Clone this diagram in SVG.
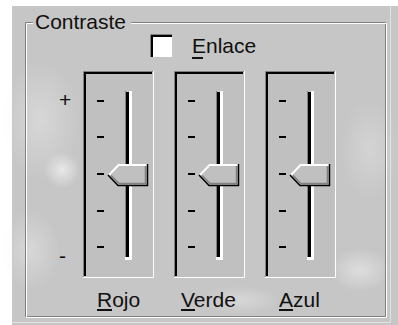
<svg xmlns="http://www.w3.org/2000/svg" xmlns:xlink="http://www.w3.org/1999/xlink" width="398" height="325" viewBox="0 0 398 325">
<style>
.t{font-family:"Liberation Sans",Arial,sans-serif;font-size:21px;fill:#101010}
.dk{fill:none;stroke:#808080;stroke-width:1}
.wh{fill:none;stroke:#ffffff;stroke-width:1}
</style>
<defs>
<radialGradient id="cl" cx="50%" cy="50%" r="50%">
<stop offset="0" stop-color="#ececec" stop-opacity="0.9"/>
<stop offset="1" stop-color="#ececec" stop-opacity="0"/>
</radialGradient>
<g id="slider">
<rect x="0" y="71" width="70" height="206" fill="#c0c0c0"/>
<path d="M0.5,277 V71.5 H70" class="dk"/>
<path d="M2,276 V73 H69" fill="none" stroke="#000" stroke-width="2"/>
<path d="M70.5,71 V277.5 H0" class="wh"/>
<g fill="#000">
<rect x="14" y="100" width="7" height="2"/>
<rect x="14" y="136" width="7" height="2"/>
<rect x="14" y="173" width="7" height="2"/>
<rect x="14" y="210" width="7" height="2"/>
<rect x="14" y="246" width="7" height="2"/>
</g>
<rect x="42" y="91" width="1" height="167" fill="#808080"/>
<rect x="43" y="92" width="3" height="165" fill="#000"/>
<path d="M46,91 H49 V260 H42 V257 H46 Z" fill="#fff"/>
<polygon points="25,175 35,164 65,164 65,186 35,186" fill="#c0c0c0"/>
<polyline points="26,175 35.5,165 64,165" fill="none" stroke="#fff" stroke-width="2"/>
<polyline points="62.5,166 62.5,183.5 36,183.5 28,175.5" fill="none" stroke="#808080" stroke-width="1.5"/>
<polyline points="64.5,164 64.5,185.5 35,185.5 25,175" fill="none" stroke="#000" stroke-width="1.5"/>
</g>
</defs>
<rect x="0" y="0" width="398" height="325" fill="#ffffff"/>
<rect x="12" y="6" width="386" height="319" fill="#c6c6c6"/>
<g id="background">
<ellipse cx="62" cy="170" rx="18" ry="18" fill="url(#cl)"/>
<ellipse cx="40" cy="120" rx="40" ry="60" fill="url(#cl)" opacity="0.5"/>
<ellipse cx="30" cy="250" rx="30" ry="40" fill="url(#cl)" opacity="0.5"/>
<ellipse cx="360" cy="270" rx="30" ry="22" fill="url(#cl)" opacity="0.7"/>
<ellipse cx="240" cy="300" rx="40" ry="14" fill="url(#cl)" opacity="0.5"/>
<ellipse cx="370" cy="150" rx="30" ry="50" fill="url(#cl)" opacity="0.4"/>
<path d="M390.5,6 V322.5 H12" fill="none" stroke="#e2e2e2" stroke-width="1"/>
</g>
<g id="group-contraste">
<path d="M33,22.5 H25.5 V316.5 H385.5 V22.5 H131" class="dk"/>
<path d="M33,23.5 H26.5 V317.5 H386.5 V23.5 H131" class="wh"/>
<text x="35" y="29" class="t">Contraste</text>
<text x="59" y="107" class="t">+</text>
<text x="59" y="263" class="t">-</text>
</g>
<g id="checkbox-enlace">
<rect x="150" y="34" width="22" height="23" fill="#fff"/>
<path d="M150.5,57 V34.5 H172" class="dk"/>
<path d="M152,57 V36 H172" fill="none" stroke="#000" stroke-width="2"/>
<text x="192" y="53" class="t">Enlace</text>
<rect x="192" y="57" width="11" height="2" fill="#101010"/>
</g>
<g id="slider-rojo">
<use xlink:href="#slider" transform="translate(83,0)"/>
<text x="97" y="307" class="t">Rojo</text>
<rect x="97" y="309" width="15" height="2" fill="#101010"/>
</g>
<g id="slider-verde">
<use xlink:href="#slider" transform="translate(174,0)"/>
<text x="181" y="307" class="t">Verde</text>
<rect x="181" y="309" width="14" height="2" fill="#101010"/>
</g>
<g id="slider-azul">
<use xlink:href="#slider" transform="translate(265,0)"/>
<text x="279" y="307" class="t">Azul</text>
<rect x="279" y="309" width="14" height="2" fill="#101010"/>
</g>
<g id="connectors"/>
</svg>
